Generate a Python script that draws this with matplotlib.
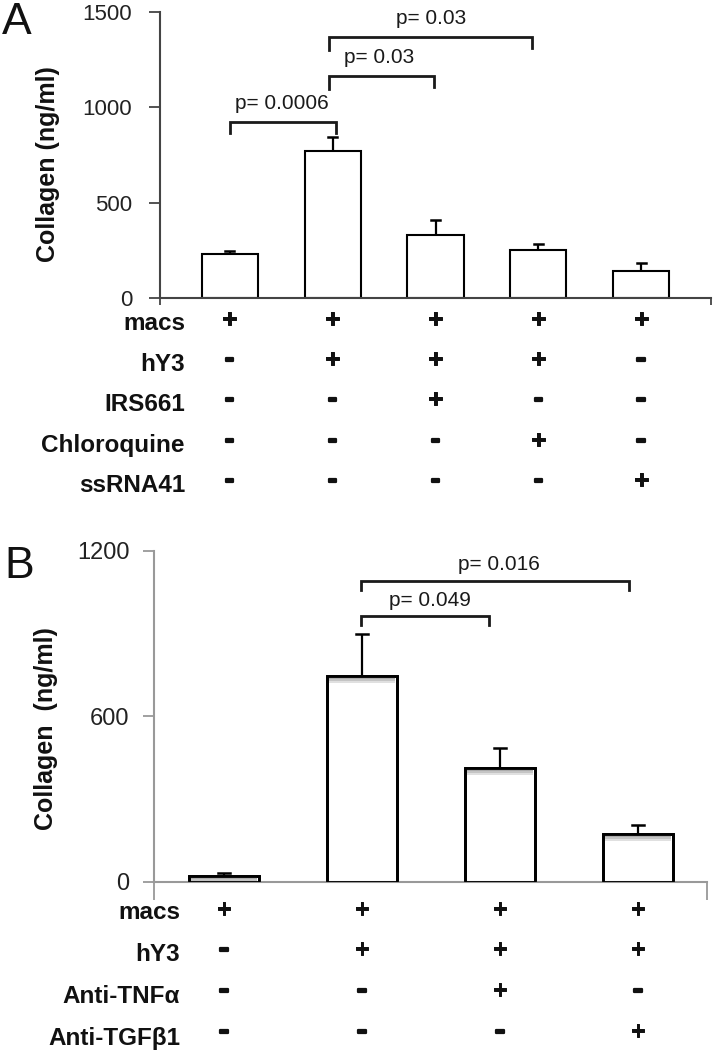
import matplotlib
matplotlib.use('Agg')
import matplotlib.pyplot as plt
import matplotlib.transforms as mtransforms
import matplotlib.patheffects as pe

plt.rcParams['font.family'] = ['Liberation Sans', 'DejaVu Sans']

# ---------------- data ----------------
# Panel A
a_values = [228, 772, 328, 250, 142]
a_errors = [18, 72, 83, 33, 38]
a_ticks = [0, 500, 1000, 1500]
a_rows = ['macs', 'hY3', 'IRS661', 'Chloroquine', 'ssRNA41']
a_table = [['+', '+', '+', '+', '+'],
           ['-', '+', '+', '+', '-'],
           ['-', '-', '+', '-', '-'],
           ['-', '-', '-', '+', '-'],
           ['-', '-', '-', '-', '+']]
a_pvals = ['p= 0.0006', 'p= 0.03', 'p= 0.03']
a_pairs = [(0, 1), (1, 2), (1, 3)]

# Panel B
b_values = [21, 747, 413, 172]
b_errors = [12, 151, 73, 32]
b_ticks = [0, 600, 1200]
b_rows = ['macs', 'hY3', 'Anti-TNFα', 'Anti-TGFβ1']
b_table = [['+', '+', '+', '+'],
           ['-', '+', '+', '+'],
           ['-', '-', '+', '-'],
           ['-', '-', '-', '+']]
b_pvals = ['p= 0.049', 'p= 0.016']
b_pairs = [(1, 2), (1, 3)]

# ---------------- layout ----------------
W, H = 715, 1050
fig = plt.figure(figsize=(W / 100, H / 100), dpi=100)


def fy(py):
    return 1 - py / H


def fx(px):
    return px / W


def make_axes(left, right, top, bottom):
    return fig.add_axes([fx(left), fy(bottom), fx(right) - fx(left), (bottom - top) / H])


def draw_panel(ax, values, errors, ticks, xlim, width, axcol, edge_lw, tick_fs,
               xtick_len, pad, shade=False):
    n = len(values)
    xs = list(range(n))
    ax.bar(xs, values, width=width, color='white', edgecolor='black',
           linewidth=edge_lw, zorder=2)
    if shade:
        for band, a in [(26, 0.3), (18, 0.4), (11, 0.55)]:
            ax.bar(xs, [band] * n, bottom=[v - band for v in values], width=width * 0.95,
                   color='#9a9a9a', edgecolor='none', zorder=2.5, alpha=a)
        ax.bar(xs, values, width=width, color='none', edgecolor='black',
               linewidth=edge_lw, zorder=3)
    for x, v, e in zip(xs, values, errors):
        ax.plot([x, x], [v, v + e], color='black', lw=1.6, zorder=3,
                solid_capstyle='butt')
    cap = width * 0.08
    for x, v, e in zip(xs, values, errors):
        ax.plot([x - cap, x + cap], [v + e, v + e], color='black', lw=1.8, zorder=3)
    ax.set_xlim(*xlim)
    ax.set_ylim(ticks[0], ticks[-1])
    ax.set_yticks(ticks)
    ax.set_yticklabels([str(t) for t in ticks], fontsize=tick_fs, color='#222222')
    ax.set_xticks([xlim[0], xlim[1]])
    ax.set_xticklabels(['', ''])
    ax.tick_params(axis='y', direction='out', length=8, width=1.3, color=axcol, pad=pad)
    ax.tick_params(axis='x', direction='out', length=xtick_len, width=1.3, color=axcol)
    for s in ['top', 'right']:
        ax.spines[s].set_visible(False)
    for s in ['left', 'bottom']:
        ax.spines[s].set_color(axcol)
        ax.spines[s].set_linewidth(1.5)
    ax.patch.set_visible(False)


def bracket(ax, x0, x1, top, l_bot, r_bot, label, tx, ty, fs):
    ax.plot([x0, x0, x1, x1], [l_bot, top, top, r_bot], color='#1a1a1a', lw=2.0,
            solid_joinstyle='miter', clip_on=False, zorder=4)
    ax.text(tx, ty, label, ha='center', va='center', fontsize=fs, color='#1a1a1a')


def table(ax, rows, marks, label_x, base_ys, mark_ys, fs):
    trans = mtransforms.blended_transform_factory(ax.transData, fig.transFigure)
    thick_minus = [pe.withStroke(linewidth=1.6, foreground='#111111')]
    thick_plus = [pe.withStroke(linewidth=0.7, foreground='#111111')]
    for r, (name, by, my) in enumerate(zip(rows, base_ys, mark_ys)):
        fig.text(fx(label_x), fy(by), name, ha='right', va='baseline', fontsize=fs,
                 fontweight='bold', color='#111111')
        for i, m in enumerate(marks[r]):
            ax.text(i, fy(my), m, transform=trans, ha='center', va='center',
                    fontsize=fs + (1 if m == '+' else 3), fontweight='bold',
                    color='#111111',
                    path_effects=thick_plus if m == '+' else thick_minus)


# ---------------- Panel A ----------------
axA = make_axes(160, 711, 12.3, 297.7)
draw_panel(axA, a_values, a_errors, a_ticks, (-0.68, 4.68), 0.545, '#444444', 1.5, 16, 5, 12)
a_geom = [((-0.0, 1.03), (926, 867, 867), (0.51, 1019)),
          ((0.96, 1.99), (1163, 1096, 1107), (1.45, 1265)),
          ((0.96, 2.94), (1371, 1300, 1312), (1.96, 1465))]
for lab, (xx, yy, tt) in zip(a_pvals, a_geom):
    bracket(axA, xx[0], xx[1], yy[0], yy[1], yy[2], lab, tt[0], tt[1], 15)
table(axA, a_rows, a_table, 185, [330, 371, 411, 452, 492],
      [320, 360, 400, 441, 481], 17.5)
fig.text(fx(48), fy(164), 'Collagen (ng/ml)', rotation=90, ha='center', va='center',
         fontsize=18, fontweight='bold', color='#111111')
fig.text(fx(17), fy(22), 'A', ha='center', va='center', fontsize=32, color='#111111')

# ---------------- Panel B ----------------
axB = make_axes(154.3, 707, 550.7, 881.7)
draw_panel(axB, b_values, b_errors, b_ticks, (-0.505, 3.5), 0.507, '#999999', 2.0, 17, 13, 10,
           shade=True)
b_geom = [((0.99, 1.92), (963, 931, 931), (1.49, 1019)),
          ((0.99, 2.935), (1091, 1058, 1058), (1.99, 1151))]
for lab, (xx, yy, tt) in zip(b_pvals, b_geom):
    bracket(axB, xx[0], xx[1], yy[0], yy[1], yy[2], lab, tt[0], tt[1], 15)
table(axB, b_rows, b_table, 180, [919, 961, 1003, 1045], [910, 950, 991, 1032], 17.5)
fig.text(fx(46), fy(729), 'Collagen  (ng/ml)', rotation=90, ha='center', va='center',
         fontsize=18, fontweight='bold', color='#111111')
fig.text(fx(19), fy(567), 'B', ha='center', va='center', fontsize=32, color='#111111')

fig.savefig('out.png', dpi=100, facecolor='white')
